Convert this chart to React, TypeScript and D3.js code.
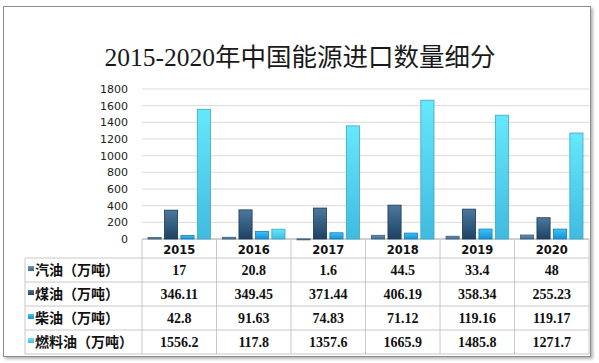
import React from 'react'
import * as d3 from 'd3'

const years = ['2015', '2016', '2017', '2018', '2019', '2020']
const seriesNames = ['汽油（万吨）', '煤油（万吨）', '柴油（万吨）', '燃料油（万吨）']
const gasoline = ['17', '20.8', '1.6', '44.5', '33.4', '48']
const kerosene = ['346.11', '349.45', '371.44', '406.19', '358.34', '255.23']
const diesel = ['42.8', '91.63', '74.83', '71.12', '119.16', '119.17']
const fuelOil = ['1556.2', '117.8', '1357.6', '1665.9', '1485.8', '1271.7']
const yTicks = [0, 200, 400, 600, 800, 1000, 1200, 1400, 1600, 1800]

const seriesValues = [gasoline, kerosene, diesel, fuelOil]
const colors = [
  { top: '#6a93b3', bottom: '#3e6a8c', stroke: '#3b5f7c' },
  { top: '#4c789c', bottom: '#1c4264', stroke: '#1b3a55' },
  { top: '#3cc4f5', bottom: '#1590d6', stroke: '#1a7fb8' },
  { top: '#66e8fc', bottom: '#40bbe0', stroke: '#38a7c8' },
]

export default function App() {
  const width = 599
  const height = 363
  const plot = { left: 142, right: 589, top: 89, bottom: 239 }
  const tableLeft = 25
  const rowH = 24
  const rowTop = 258

  const x = d3.scaleBand().domain(years).range([plot.left, plot.right])
  const x1 = d3
    .scaleBand()
    .domain(d3.range(4).map(String))
    .range([6, x.bandwidth() - 6])
    .paddingInner(0.2)
  const y = d3.scaleLinear().domain([0, 1800]).range([plot.bottom, plot.top])

  return (
    <svg
      width={width}
      height={height}
      style={{ position: 'absolute', left: 0, top: 0, background: '#fff' }}
    >
      <defs>
        {colors.map((c, i) => (
          <linearGradient key={i} id={`g${i}`} x1="0" y1="0" x2="0" y2="1">
            <stop offset="0%" stopColor={c.top} />
            <stop offset="100%" stopColor={c.bottom} />
          </linearGradient>
        ))}
        <filter id="shadow" x="-5%" y="-5%" width="110%" height="110%">
          <feDropShadow dx="2" dy="2" stdDeviation="1.5" floodColor="#000" floodOpacity="0.3" />
        </filter>
      </defs>

      <rect
        x={3.5}
        y={6.5}
        width={587}
        height={350}
        fill="#fff"
        stroke="#8c8c8c"
        filter="url(#shadow)"
      />

      <text
        x={300}
        y={66}
        textAnchor="middle"
        fontFamily="'Liberation Serif', 'Noto Sans CJK SC', serif"
        fontSize={25.5}
        fill="#1a1a1a"
      >
        2015-2020年中国能源进口数量细分
      </text>

      {/* gridlines */}
      {yTicks.map((t) => (
        <g key={t}>
          <line
            x1={plot.left}
            x2={plot.right}
            y1={y(t)}
            y2={y(t)}
            stroke={t === 0 ? '#a0a0a0' : '#d9d9d9'}
          />
          <text
            x={128}
            y={y(t) + 4}
            textAnchor="end"
            fontFamily="'DejaVu Sans', sans-serif"
            fontSize={11}
            fill="#222"
          >
            {t}
          </text>
        </g>
      ))}

      {/* bars */}
      {years.map((yr, j) => (
        <g key={yr} transform={`translate(${x(yr)},0)`}>
          {seriesValues.map((vals, i) => {
            const v = +vals[j]
            return (
              <rect
                key={i}
                x={x1(String(i))}
                y={y(v)}
                width={x1.bandwidth()}
                height={Math.max(plot.bottom - y(v), 1)}
                fill={`url(#g${i})`}
                stroke={colors[i].stroke}
                strokeWidth={0.8}
              />
            )
          })}
        </g>
      ))}

      {/* table */}
      <g stroke="#c8c8c8" fill="none">
        {years.map((yr) => (
          <line key={yr} x1={x(yr)} x2={x(yr)} y1={plot.bottom} y2={rowTop + rowH * 4} />
        ))}
        <line x1={plot.right} x2={plot.right} y1={plot.bottom} y2={rowTop + rowH * 4} />
        <line x1={tableLeft} x2={tableLeft} y1={rowTop} y2={rowTop + rowH * 4} />
        {d3.range(5).map((r) => (
          <line
            key={r}
            x1={tableLeft}
            x2={plot.right}
            y1={rowTop + r * rowH}
            y2={rowTop + r * rowH}
          />
        ))}
      </g>

      {years.map((yr) => (
        <text
          key={yr}
          x={x(yr)! + x.bandwidth() / 2}
          y={254}
          textAnchor="middle"
          fontFamily="'DejaVu Sans', sans-serif"
          fontWeight="bold"
          fontSize={11.5}
          fill="#111"
        >
          {yr}
        </text>
      ))}

      {seriesNames.map((name, i) => (
        <g key={name}>
          <rect
            x={28}
            y={rowTop + i * rowH + 8}
            width={6}
            height={5}
            fill={`url(#g${i})`}
          />
          <text
            x={35}
            y={rowTop + i * rowH + 17}
            fontFamily="'Noto Sans CJK SC', sans-serif"
            fontWeight="bold"
            fontSize={14}
            fill="#111"
          >
            {name}
          </text>
          {seriesValues[i].map((v, j) => (
            <text
              key={j}
              x={x(years[j])! + x.bandwidth() / 2}
              y={rowTop + i * rowH + 17}
              textAnchor="middle"
              fontFamily="'Liberation Serif', serif"
              fontWeight="bold"
              fontSize={14}
              fill="#111"
            >
              {v}
            </text>
          ))}
        </g>
      ))}
    </svg>
  )
}
